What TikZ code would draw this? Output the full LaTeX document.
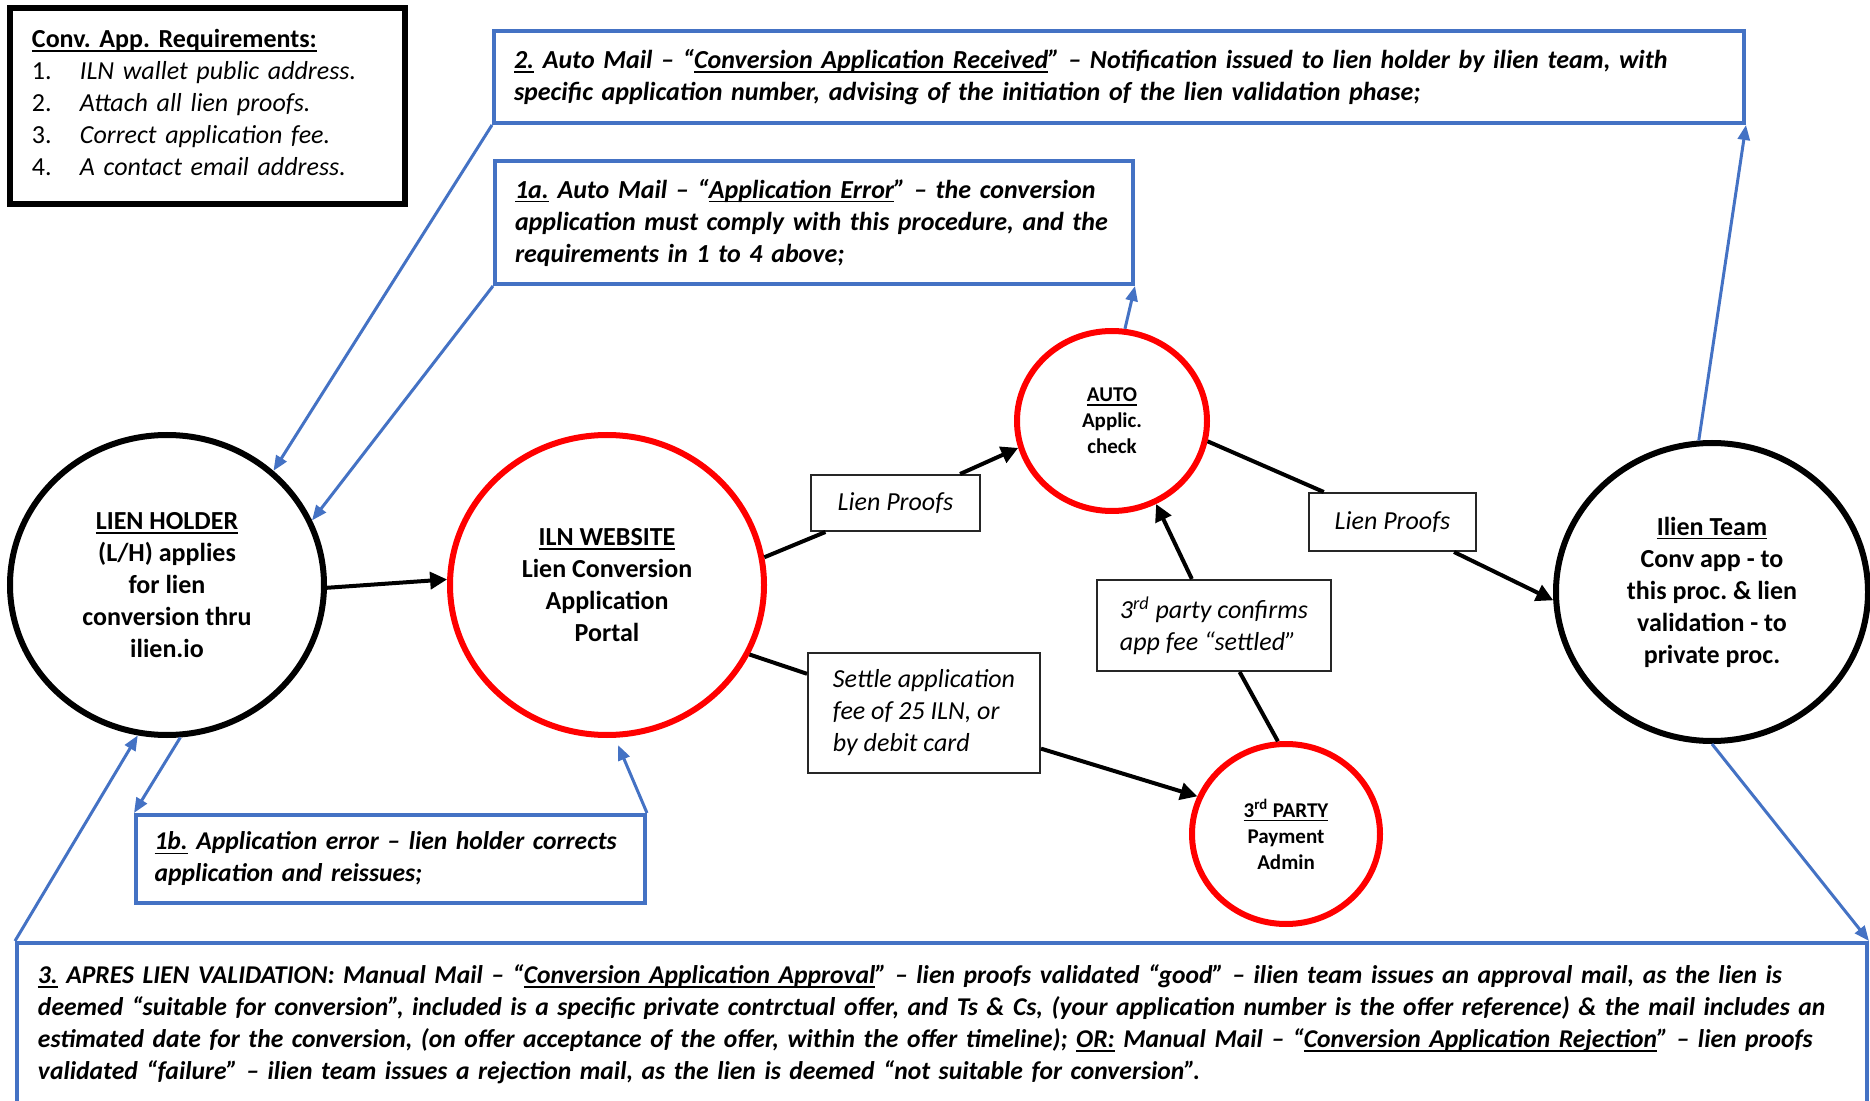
\documentclass[tikz,border=0pt]{standalone}
\usepackage{fontspec}
\setmainfont{Carlito}
\usepackage{xcolor}
\usepackage{tikz}
\usetikzlibrary{shapes.geometric}
\usetikzlibrary{positioning}
\usetikzlibrary{arrows.meta}
\definecolor{mailblue}{HTML}{4472C4}
\frenchspacing
\def\bodyfont{\fontsize{13}{16}\selectfont}
\def\notefont{\fontsize{12.8}{16}\selectfont}
\def\smallfont{\fontsize{10.5}{13}\selectfont}
\newcommand\uln[1]{\setbox0\hbox{#1}\leavevmode\rlap{\vrule height -1.3pt depth 2.2pt width \wd0}\box0\relax}
\tikzset{
	party/.style={
		ellipse, draw=black, line width=3pt, fill=white, inner sep=0pt,
		align=center, font=\bfseries\bodyfont
	},
	site/.style={
		party, draw=red
	},
	mailbox/.style={
		draw=mailblue, line width=2pt, fill=white, align=left,
		inner xsep=10pt, font=\bfseries\itshape\bodyfont
	},
	tagbox/.style={
		draw=black!85, line width=1pt, fill=white, align=left,
		font=\itshape\bodyfont
	},
	flow/.style={
		draw=black, line width=2pt, -{Triangle[length=8.5pt,width=8.5pt]}
	},
	mailflow/.style={
		draw=mailblue, line width=1.5pt, -{Triangle[length=7.5pt,width=6pt]}
	}
}

\begin{document}
\begin{tikzpicture}[x=0.5pt, y=-0.5pt]
    \useasboundingbox (0,0) rectangle (1870,1101);
    \clip (0,0) rectangle (1870,1101);

    \node [draw, line width=3pt, fill=white, align=left, font=\bodyfont,
        text width=175.5pt, inner xsep=11pt, minimum height=98pt] (reqs) at (207.5,106) {
        \textbf{\uln{Conv. App. Requirements:}}\\
        \makebox[24pt][l]{1.}\textit{ILN wallet public address.}\\
        \makebox[24pt][l]{2.}\textit{Attach all lien proofs.}\\
        \makebox[24pt][l]{3.}\textit{Correct application fee.}\\
        \makebox[24pt][l]{4.}\textit{A contact email address.}\par\kern3.6pt\hrule height0pt width0pt
    };

    \node [party, minimum width=157pt, minimum height=150pt] (lh) at (167,585)
        {\uln{LIEN HOLDER}\\(L/H) applies\\for lien\\conversion thru\\ilien.io};
    \node [site, minimum width=157pt, minimum height=150pt, right=60pt of lh] (iln)
        {\uln{ILN WEBSITE}\\Lien Conversion\\Application\\Portal};
    \node [site, minimum width=95pt, minimum height=90pt, font=\bfseries\smallfont] (auto) at (1112,421)
        {\uln{AUTO}\\Applic.\\check};
    \node [site, minimum width=94pt, minimum height=90pt, font=\bfseries\smallfont] (third) at (1286,834)
        {\uln{3\textsuperscript{rd} PARTY}\\Payment\\Admin};
    \node [party, minimum width=156pt, minimum height=149pt] (ilien) at (1712,592)
        {\uln{Ilien Team}\\Conv app - to\\this proc. \& lien\\validation - to\\private proc.};

    \node [tagbox, minimum width=84.5pt, minimum height=28pt] (proofs1) at (895.5,503) {Lien Proofs};
    \node [tagbox, minimum width=83.5pt, minimum height=29pt] (proofs2) at (1392.5,522) {Lien Proofs};
    \node [tagbox, minimum width=117pt, minimum height=45.5pt] (confirm) at (1214,625.5)
        {3\textsuperscript{rd} party confirms\\app fee “settled”};
    \node [tagbox, minimum width=116pt, minimum height=60pt] (settle) at (924,713)
        {Settle application\\fee of 25 ILN, or\\by debit card};

    \node [mailbox, text width=605pt, minimum height=46pt] (mail2) at (1119,77)
        {\uln{2.} Auto Mail – “\uln{Conversion Application Received}” – Notification issued to lien holder by ilien team, with\\
        specific application number, advising of the initiation of the lien validation phase;};
    \node [mailbox, text width=299pt, minimum height=61.5pt] (err1a) at (814,222.5)
        {\uln{1a.} Auto Mail – “\uln{Application Error}” – the conversion\\
        application must comply with this procedure, and the\\
        requirements in 1 to 4 above;};
    \node [mailbox, text width=236pt, inner xsep=9.25pt, minimum height=44pt,
        font=\bfseries\itshape\notefont] (err1b) at (390.5,859)
        {\uln{1b.} Application error – lien holder corrects\\
        application and reissues;};
    \node [mailbox, text width=904pt, inner xsep=10.5pt, minimum height=81.5pt,
        font=\bfseries\itshape\notefont] (mail3) at (942,1024.5)
        {\uln{3.} APRES LIEN VALIDATION: Manual Mail – “\uln{Conversion Application Approval}” – lien proofs validated “good” – ilien team issues an approval mail, as the lien is\\
        deemed “suitable for conversion”, included is a specific private contrctual offer, and Ts \& Cs, (your application number is the offer reference) \& the mail includes an\\
        estimated date for the conversion, (on offer acceptance of the offer, within the offer timeline); \uln{OR:} Manual Mail – “\uln{Conversion Application Rejection}” – lien proofs\\
        validated “failure” – ilien team issues a rejection mail, as the lien is deemed “not suitable for conversion”.};

    \draw [flow] (lh.-1) -- (iln.178);
    \draw [flow] (iln.10) -- (proofs1) -- (auto.196);
    \draw [flow] (auto.-12) -- (proofs2) -- (ilien.183);
    \draw [flow] (third.95) -- (confirm) -- (auto.-62);
    \draw [flow] (iln.-26) -- (settle) -- (third.157);

    \draw [mailflow] (mail2.south west) -- (lh.47);
    \draw [mailflow] (err1a.south west) -- (lh.24);
    \draw [mailflow] (auto.82) -- (err1a.south east);
    \draw [mailflow] (ilien.95) -- (mail2.south east);
    \draw [mailflow] (ilien.-90) -- (mail3.north east);
    \draw [mailflow] (mail3.north west) -- (lh.-101);
    \draw [mailflow] (lh.-85) -- (err1b.north west);
    \draw [mailflow, shorten >=4pt] (err1b.north east) -- (iln.-87);
\end{tikzpicture}
\end{document}
